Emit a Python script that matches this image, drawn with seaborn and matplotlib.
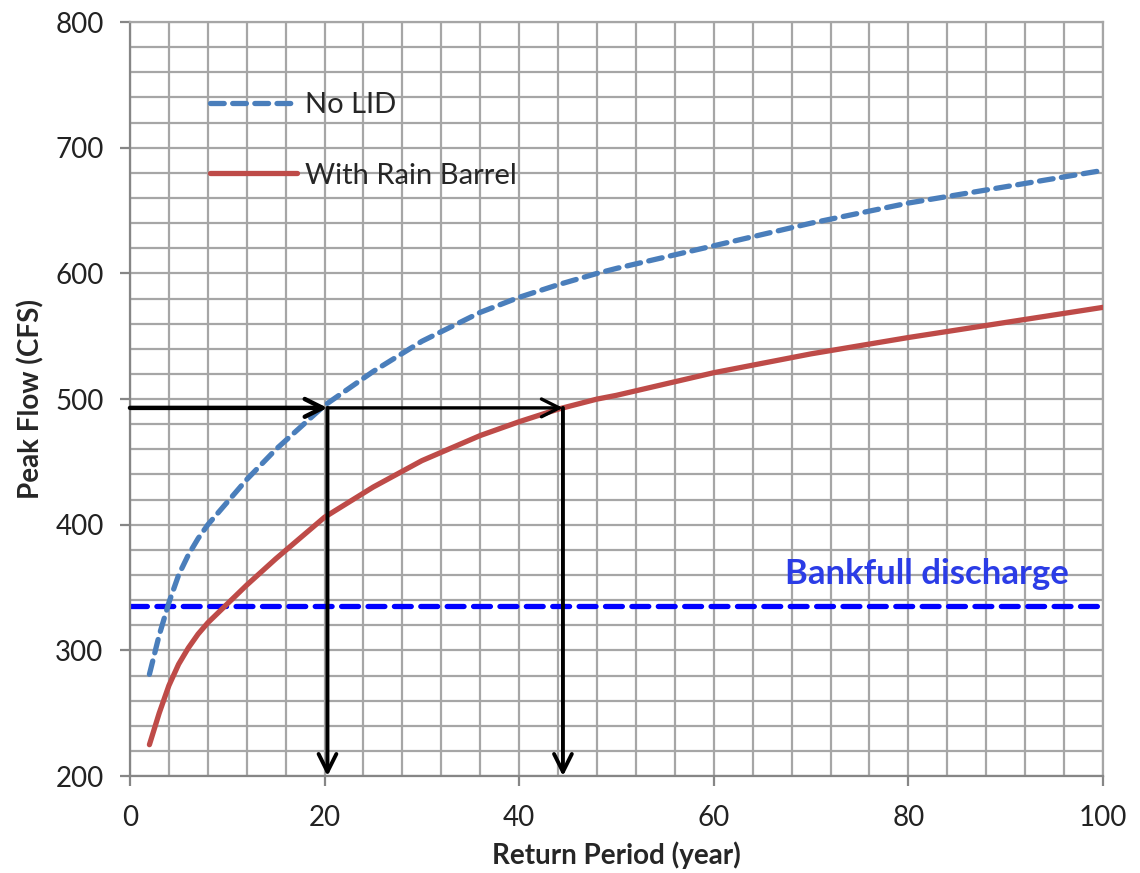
import matplotlib
import matplotlib.pyplot as plt
import seaborn as sns
from matplotlib.ticker import MultipleLocator

matplotlib.use("Agg")

# return period (year) and peak flow (CFS)
period = [2, 3, 4, 5, 6, 7, 8, 10, 12, 15, 20, 25, 30, 36, 40, 44, 48, 50, 60, 70, 80, 90, 100]
no_lid = [281, 312, 338, 360, 376, 389, 400, 418, 436, 460, 495, 522, 546, 569, 581, 591, 600, 604,
          622, 640, 656, 669, 682]
rain_barrel = [225, 250, 272, 289, 302, 313, 322, 337, 352, 373, 406, 430, 451, 471, 482, 492, 500, 503,
               521, 536, 549, 561, 573]

bankfull = 335
target_flow = 493
target_periods = [20.3, 44.5]

sns.set_theme(style="white")
plt.rcParams['font.family'] = ['Lato', 'DejaVu Sans']

fig = plt.figure(figsize=(11.4, 8.73), dpi=100)
ax = fig.add_axes([0.114, 0.111, 0.8535, 0.8637])

grid_color = "#a6a6a6"
ax.xaxis.set_major_locator(MultipleLocator(20))
ax.xaxis.set_minor_locator(MultipleLocator(4))
ax.yaxis.set_major_locator(MultipleLocator(100))
ax.yaxis.set_minor_locator(MultipleLocator(20))
ax.grid(True, which="both", color=grid_color, lw=1.6)
ax.set_axisbelow(True)
for s in ax.spines.values():
    s.set_color(grid_color)
    s.set_linewidth(1.6)
ax.spines["left"].set_color("#868686")
ax.spines["bottom"].set_color("#868686")

ax.axhline(bankfull, color="#0000ff", lw=3.8, linestyle=(0, (3.2, 1.8)), zorder=2)
ax.text(96.5, bankfull + 13, "Bankfull discharge", color="#2b3ce6", fontsize=25,
        fontweight="bold", ha="right", va="bottom")

sns.lineplot(x=period, y=no_lid, ax=ax, color="#4a7ebb", lw=3.8,
             linestyle=(0, (2.6, 1.6)), label="No LID", zorder=3)
sns.lineplot(x=period, y=rain_barrel, ax=ax, color="#be4b48", lw=3.8,
             label="With Rain Barrel", zorder=3)
for line in ax.lines:
    line.set_dash_capstyle("round")
    line.set_solid_capstyle("round")
    line.set_solid_joinstyle("round")

arrow = dict(arrowstyle="->", color="black", lw=2.8, mutation_scale=32, shrinkA=0, shrinkB=0)
ax.annotate("", xy=(target_periods[0], target_flow), xytext=(0, target_flow),
            arrowprops=dict(arrow, lw=3.2), zorder=4)
ax.annotate("", xy=(target_periods[1], target_flow), xytext=(target_periods[0], target_flow),
            arrowprops=dict(arrow, lw=2.4), zorder=4)
for p in target_periods:
    ax.annotate("", xy=(p, 200), xytext=(p, target_flow), arrowprops=arrow, zorder=4)

ax.set_xlim(0, 100)
ax.set_ylim(200, 800)
ax.tick_params(axis="both", which="major", labelsize=20, length=7, width=1.6,
               color="#868686", labelcolor="#222222", direction="out")
ax.tick_params(axis="x", which="major", pad=14)
ax.tick_params(axis="y", which="major", pad=12)
ax.tick_params(axis="both", which="minor", length=0)
ax.tick_params(bottom=True, left=True)

ax.set_xlabel("Return Period (year)", fontsize=20, fontweight="bold", labelpad=7)
ax.set_ylabel("Peak Flow (CFS)", fontsize=20, fontweight="bold", labelpad=8)

ax.legend(loc="upper left", bbox_to_anchor=(0.082, 0.907), frameon=False, fontsize=21,
          borderpad=0, borderaxespad=0, handlelength=3.0, handletextpad=0.28, labelspacing=1.52)

fig.savefig("out.png", dpi=100)
